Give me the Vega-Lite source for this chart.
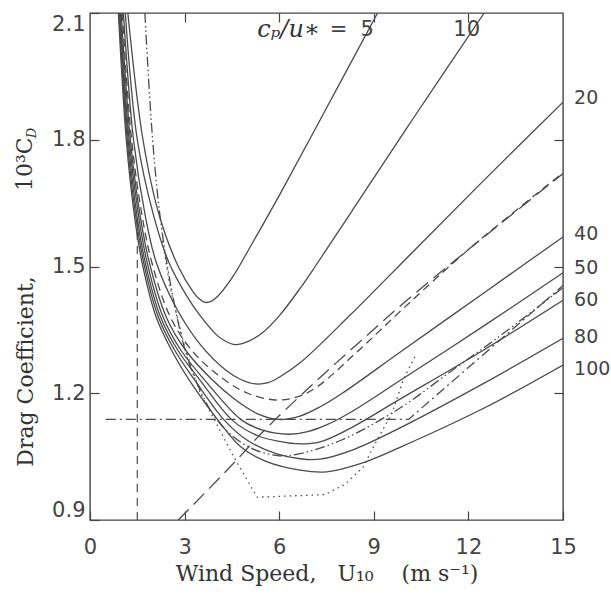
{
  "$schema": "https://vega.github.io/schema/vega-lite/v6.json",
  "width": 473,
  "height": 507,
  "autosize": {"type": "none"},
  "padding": {"left": 90, "top": 13, "right": 48, "bottom": 75},
  "background": "white",
  "config": {
    "view": {"stroke": "#444", "strokeWidth": 1.4},
    "axis": {
      "domain": false, "grid": false, "tickSize": 9, "offset": -9, "tickColor": "#444", "tickWidth": 1.2,
      "labelFont": "DejaVu Sans", "labelFontSize": 21, "labelColor": "#444",
      "titleFont": "DejaVu Serif", "titleFontSize": 22, "titleFontWeight": "normal", "titleColor": "#333"
    },
    "line": {"stroke": "#4a4a4a", "strokeWidth": 1.3}
  },
  "datasets": {
    "solid": [
      {"c": "5", "x": 1.2, "y": 2.1}, {"c": "5", "x": 1.68, "y": 1.8}, {"c": "5", "x": 2.2, "y": 1.62}, {"c": "5", "x": 2.8, "y": 1.5}, {"c": "5", "x": 3.27, "y": 1.44}, {"c": "5", "x": 3.45, "y": 1.424}, {"c": "5", "x": 3.65, "y": 1.415}, {"c": "5", "x": 3.85, "y": 1.418}, {"c": "5", "x": 4.06, "y": 1.43}, {"c": "5", "x": 4.54, "y": 1.477}, {"c": "5", "x": 5.07, "y": 1.545}, {"c": "5", "x": 6.03, "y": 1.672}, {"c": "5", "x": 7.5, "y": 1.875}, {"c": "5", "x": 9.12, "y": 2.1},
      {"c": "10", "x": 1.12, "y": 2.1}, {"c": "10", "x": 1.5, "y": 1.8}, {"c": "10", "x": 2.02, "y": 1.62}, {"c": "10", "x": 2.5, "y": 1.51}, {"c": "10", "x": 3.07, "y": 1.43}, {"c": "10", "x": 3.5, "y": 1.383}, {"c": "10", "x": 4.03, "y": 1.337}, {"c": "10", "x": 4.3, "y": 1.323}, {"c": "10", "x": 4.6, "y": 1.315}, {"c": "10", "x": 5.0, "y": 1.322}, {"c": "10", "x": 5.5, "y": 1.345}, {"c": "10", "x": 6.0, "y": 1.383}, {"c": "10", "x": 6.66, "y": 1.448}, {"c": "10", "x": 7.14, "y": 1.5}, {"c": "10", "x": 8.34, "y": 1.635}, {"c": "10", "x": 10.2, "y": 1.845}, {"c": "10", "x": 12.5, "y": 2.1},
      {"c": "20", "x": 1.06, "y": 2.1}, {"c": "20", "x": 1.38, "y": 1.8}, {"c": "20", "x": 1.74, "y": 1.625}, {"c": "20", "x": 2.1, "y": 1.51}, {"c": "20", "x": 2.75, "y": 1.4}, {"c": "20", "x": 3.5, "y": 1.315}, {"c": "20", "x": 4.3, "y": 1.255}, {"c": "20", "x": 4.8, "y": 1.232}, {"c": "20", "x": 5.25, "y": 1.222}, {"c": "20", "x": 5.65, "y": 1.225}, {"c": "20", "x": 6.0, "y": 1.238}, {"c": "20", "x": 6.66, "y": 1.272}, {"c": "20", "x": 8.25, "y": 1.385}, {"c": "20", "x": 10.15, "y": 1.528}, {"c": "20", "x": 12.37, "y": 1.695}, {"c": "20", "x": 15, "y": 1.889},
      {"c": "40", "x": 0.99, "y": 2.1}, {"c": "40", "x": 1.28, "y": 1.8}, {"c": "40", "x": 1.58, "y": 1.625}, {"c": "40", "x": 1.88, "y": 1.51}, {"c": "40", "x": 2.42, "y": 1.38}, {"c": "40", "x": 3.05, "y": 1.3}, {"c": "40", "x": 3.9, "y": 1.23}, {"c": "40", "x": 4.6, "y": 1.185}, {"c": "40", "x": 5.3, "y": 1.152}, {"c": "40", "x": 6.0, "y": 1.138}, {"c": "40", "x": 6.66, "y": 1.146}, {"c": "40", "x": 7.3, "y": 1.168}, {"c": "40", "x": 8.0, "y": 1.2}, {"c": "40", "x": 9.83, "y": 1.297}, {"c": "40", "x": 12.5, "y": 1.438}, {"c": "40", "x": 15, "y": 1.57},
      {"c": "50", "x": 0.96, "y": 2.1}, {"c": "50", "x": 1.24, "y": 1.8}, {"c": "50", "x": 1.53, "y": 1.625}, {"c": "50", "x": 1.81, "y": 1.51}, {"c": "50", "x": 2.32, "y": 1.38}, {"c": "50", "x": 2.9, "y": 1.3}, {"c": "50", "x": 3.65, "y": 1.23}, {"c": "50", "x": 4.8, "y": 1.137}, {"c": "50", "x": 5.5, "y": 1.112}, {"c": "50", "x": 6.3, "y": 1.103}, {"c": "50", "x": 6.9, "y": 1.109}, {"c": "50", "x": 7.5, "y": 1.125}, {"c": "50", "x": 8.2, "y": 1.152}, {"c": "50", "x": 9.83, "y": 1.23}, {"c": "50", "x": 12.5, "y": 1.36}, {"c": "50", "x": 15, "y": 1.485},
      {"c": "60", "x": 0.94, "y": 2.1}, {"c": "60", "x": 1.21, "y": 1.8}, {"c": "60", "x": 1.48, "y": 1.625}, {"c": "60", "x": 1.75, "y": 1.51}, {"c": "60", "x": 2.24, "y": 1.38}, {"c": "60", "x": 2.8, "y": 1.3}, {"c": "60", "x": 3.5, "y": 1.23}, {"c": "60", "x": 4.5, "y": 1.137}, {"c": "60", "x": 5.3, "y": 1.1}, {"c": "60", "x": 6.0, "y": 1.086}, {"c": "60", "x": 6.66, "y": 1.08}, {"c": "60", "x": 7.3, "y": 1.085}, {"c": "60", "x": 8.2, "y": 1.115}, {"c": "60", "x": 9.83, "y": 1.186}, {"c": "60", "x": 12.5, "y": 1.303}, {"c": "60", "x": 15, "y": 1.42},
      {"c": "80", "x": 0.92, "y": 2.1}, {"c": "80", "x": 1.18, "y": 1.8}, {"c": "80", "x": 1.44, "y": 1.625}, {"c": "80", "x": 1.7, "y": 1.51}, {"c": "80", "x": 2.17, "y": 1.38}, {"c": "80", "x": 2.7, "y": 1.3}, {"c": "80", "x": 3.35, "y": 1.228}, {"c": "80", "x": 4.25, "y": 1.137}, {"c": "80", "x": 5.0, "y": 1.088}, {"c": "80", "x": 5.9, "y": 1.057}, {"c": "80", "x": 6.66, "y": 1.045}, {"c": "80", "x": 7.3, "y": 1.044}, {"c": "80", "x": 8.4, "y": 1.068}, {"c": "80", "x": 9.83, "y": 1.118}, {"c": "80", "x": 12.5, "y": 1.224}, {"c": "80", "x": 15, "y": 1.33},
      {"c": "100", "x": 0.9, "y": 2.1}, {"c": "100", "x": 1.15, "y": 1.8}, {"c": "100", "x": 1.4, "y": 1.625}, {"c": "100", "x": 1.65, "y": 1.51}, {"c": "100", "x": 2.1, "y": 1.38}, {"c": "100", "x": 2.6, "y": 1.3}, {"c": "100", "x": 3.2, "y": 1.225}, {"c": "100", "x": 4.05, "y": 1.137}, {"c": "100", "x": 4.8, "y": 1.072}, {"c": "100", "x": 5.6, "y": 1.038}, {"c": "100", "x": 6.66, "y": 1.018}, {"c": "100", "x": 7.5, "y": 1.014}, {"c": "100", "x": 8.6, "y": 1.034}, {"c": "100", "x": 9.83, "y": 1.072}, {"c": "100", "x": 12.5, "y": 1.165}, {"c": "100", "x": 15, "y": 1.267}
    ],
    "shortdash": [
      {"x": 1.02, "y": 2.1}, {"x": 1.32, "y": 1.8}, {"x": 1.64, "y": 1.625}, {"x": 1.96, "y": 1.51}, {"x": 2.55, "y": 1.38}, {"x": 3.3, "y": 1.295}, {"x": 4.3, "y": 1.23}, {"x": 5.0, "y": 1.2}, {"x": 5.9, "y": 1.184}, {"x": 6.6, "y": 1.192}, {"x": 7.2, "y": 1.215}, {"x": 8.5, "y": 1.3}, {"x": 10.0, "y": 1.405}, {"x": 12.0, "y": 1.54}, {"x": 15, "y": 1.722}
    ],
    "longdash": [
      {"x": 2.8, "y": 0.9}, {"x": 4.5, "y": 1.03}, {"x": 5.5, "y": 1.11}, {"x": 6.9, "y": 1.21}, {"x": 8.5, "y": 1.318}, {"x": 10.05, "y": 1.42}, {"x": 12.0, "y": 1.54}, {"x": 15, "y": 1.72}
    ],
    "largepond": [
      {"x": 0.5, "y": 1.138}, {"x": 10.1, "y": 1.138}, {"x": 15, "y": 1.455}
    ],
    "dashdotdot": [
      {"x": 1.74, "y": 2.1}, {"x": 1.97, "y": 1.816}, {"x": 2.22, "y": 1.62}, {"x": 2.55, "y": 1.46}, {"x": 2.95, "y": 1.32}, {"x": 3.3, "y": 1.24}, {"x": 3.9, "y": 1.15}, {"x": 4.5, "y": 1.1}, {"x": 5.2, "y": 1.067}, {"x": 6.0, "y": 1.052}, {"x": 6.66, "y": 1.057}, {"x": 8.0, "y": 1.09}, {"x": 9.83, "y": 1.165}, {"x": 11.5, "y": 1.255}, {"x": 12.9, "y": 1.33}, {"x": 15, "y": 1.45}
    ],
    "dotted": [
      {"x": 2.3, "y": 1.56}, {"x": 2.54, "y": 1.45}, {"x": 3.0, "y": 1.31}, {"x": 3.5, "y": 1.2}, {"x": 3.96, "y": 1.135}, {"x": 4.54, "y": 1.052}, {"x": 5.3, "y": 0.954}, {"x": 7.45, "y": 0.96}, {"x": 8.1, "y": 0.985}, {"x": 8.66, "y": 1.025}, {"x": 9.1, "y": 1.089}, {"x": 9.58, "y": 1.153}, {"x": 9.93, "y": 1.231}, {"x": 10.3, "y": 1.286}
    ],
    "labels": [
      {"t": "20", "x": 15.35, "y": 1.9}, {"t": "40", "x": 15.35, "y": 1.578}, {"t": "50", "x": 15.35, "y": 1.497}, {"t": "60", "x": 15.35, "y": 1.42}, {"t": "80", "x": 15.35, "y": 1.333}, {"t": "100", "x": 15.35, "y": 1.258}
    ],
    "frame": [{"x": 5, "y": 1.5}]
  },
  "layer": [
    {
      "data": {"name": "solid"},
      "mark": {"type": "line", "interpolate": "catmull-rom", "clip": true},
      "encoding": {
        "x": {"field": "x", "type": "quantitative", "scale": {"domain": [0, 15], "nice": false, "zero": false},
              "axis": {"orient": "bottom", "values": [0, 3, 6, 9, 12, 15], "labelFlush": false, "labelPadding": 16, "title": "Wind Speed,\u00a0\u00a0 U₁₀ \u00a0\u00a0\u00a0(m s⁻¹)", "titlePadding": 6}},
        "y": {"field": "y", "type": "quantitative", "scale": {"domain": [0.9, 2.1], "nice": false, "zero": false},
              "axis": {"orient": "left", "values": [0.9, 1.2, 1.5, 1.8, 2.1], "format": ".1f", "labelFlush": true, "labelPadding": 5, "title": "Drag Coefficient,", "titleX": -74, "titleY": 358, "titleBaseline": "middle", "titleAngle": 270, "titleAlign": "center"}},
        "detail": {"field": "c"}
      }
    },
    {
      "data": {"name": "shortdash"},
      "mark": {"type": "line", "interpolate": "catmull-rom", "clip": true, "strokeDash": [8, 5]},
      "encoding": {"x": {"field": "x", "type": "quantitative", "axis": null}, "y": {"field": "y", "type": "quantitative", "axis": null}}
    },
    {
      "data": {"name": "longdash"},
      "mark": {"type": "line", "interpolate": "catmull-rom", "clip": true, "strokeDash": [15, 7]},
      "encoding": {"x": {"field": "x", "type": "quantitative", "axis": null}, "y": {"field": "y", "type": "quantitative", "axis": null}}
    },
    {
      "data": {"name": "largepond"},
      "mark": {"type": "line", "interpolate": "linear", "clip": true, "strokeDash": [10, 4, 2, 4]},
      "encoding": {"x": {"field": "x", "type": "quantitative", "axis": null}, "y": {"field": "y", "type": "quantitative", "axis": null}}
    },
    {
      "data": {"name": "dashdotdot"},
      "mark": {"type": "line", "interpolate": "catmull-rom", "clip": true, "strokeDash": [10, 3, 1.5, 3, 1.5, 3]},
      "encoding": {"x": {"field": "x", "type": "quantitative", "axis": null}, "y": {"field": "y", "type": "quantitative", "axis": null}}
    },
    {
      "data": {"name": "dotted"},
      "mark": {"type": "line", "interpolate": "linear", "clip": true, "strokeDash": [1.5, 4]},
      "encoding": {"x": {"field": "x", "type": "quantitative", "axis": null}, "y": {"field": "y", "type": "quantitative", "axis": null}}
    },
    {
      "data": {"values": [{}]},
      "mark": {"type": "rule", "stroke": "#4a4a4a", "strokeWidth": 1.2, "strokeDash": [8, 6]},
      "encoding": {"x": {"datum": 1.5, "type": "quantitative", "axis": null}, "y": {"datum": 0.9, "type": "quantitative", "axis": null}, "y2": {"datum": 1.63}}
    },
    {
      "data": {"name": "labels"},
      "mark": {"type": "text", "align": "left", "baseline": "middle", "font": "DejaVu Sans", "fontSize": 19, "color": "#444"},
      "encoding": {"x": {"field": "x", "type": "quantitative", "axis": null}, "y": {"field": "y", "type": "quantitative", "axis": null}, "text": {"field": "t"}}
    },
    {
      "data": {"values": [{}]},
      "mark": {"type": "text", "align": "right", "baseline": "middle", "font": "DejaVu Sans", "fontSize": 21, "color": "#444"},
      "encoding": {"x": {"datum": 12.37, "type": "quantitative", "axis": null}, "y": {"datum": 2.06, "type": "quantitative", "axis": null}, "text": {"value": "10"}}
    },
    {
      "data": {"values": [{}]},
      "mark": {"type": "text", "align": "right", "baseline": "middle", "font": "DejaVu Serif", "fontStyle": "italic", "fontSize": 24, "color": "#333"},
      "encoding": {"x": {"datum": 7.3, "type": "quantitative", "axis": null}, "y": {"datum": 2.06, "type": "quantitative", "axis": null}, "text": {"value": "cₚ/u∗"}}
    },
    {
      "data": {"values": [{}]},
      "mark": {"type": "text", "align": "left", "baseline": "middle", "font": "DejaVu Sans", "fontSize": 21, "color": "#444"},
      "encoding": {"x": {"datum": 7.6, "type": "quantitative", "axis": null}, "y": {"datum": 2.06, "type": "quantitative", "axis": null}, "text": {"value": "=\u00a0\u00a05"}}
    },
    {
      "data": {"values": [{}]},
      "mark": {"type": "text", "align": "center", "baseline": "middle", "font": "DejaVu Serif", "fontSize": 22, "angle": 270, "color": "#333"},
      "encoding": {"x": {"datum": -2.06, "type": "quantitative", "axis": null}, "y": {"datum": 1.742, "type": "quantitative", "axis": null}, "text": {"value": "10³C"}}
    },
    {
      "data": {"values": [{}]},
      "mark": {"type": "text", "align": "center", "baseline": "middle", "font": "DejaVu Serif", "fontStyle": "italic", "fontSize": 13, "angle": 270, "color": "#333"},
      "encoding": {"x": {"datum": -1.85, "type": "quantitative", "axis": null}, "y": {"datum": 1.816, "type": "quantitative", "axis": null}, "text": {"value": "D"}}
    },
    {
      "data": {"name": "frame"},
      "mark": {"type": "point", "opacity": 0},
      "encoding": {
        "x": {"field": "x", "type": "quantitative", "axis": {"orient": "top", "values": [3, 6, 9, 12], "labels": false, "title": null}},
        "y": {"field": "y", "type": "quantitative", "axis": {"orient": "right", "values": [1.2, 1.5, 1.8], "labels": false, "title": null}}
      }
    }
  ],
  "resolve": {"axis": {"x": "independent", "y": "independent"}}
}
